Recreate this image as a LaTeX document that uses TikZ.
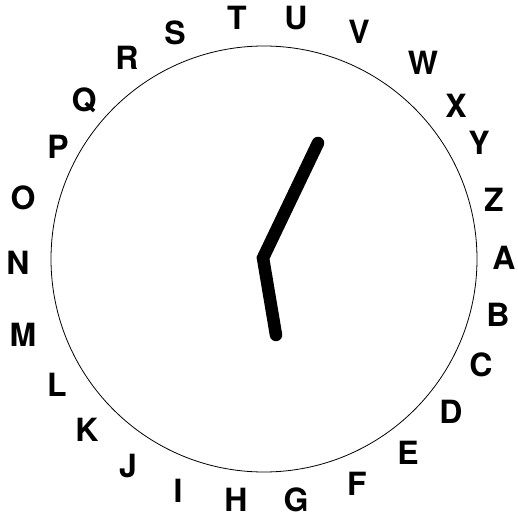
\documentclass[tikz,border=0pt]{standalone}
\usepackage{fontspec}
\setsansfont{TeX Gyre Heros}
\usetikzlibrary{positioning}

\begin{document}
\begin{tikzpicture}[x=1pt,y=-1pt,
  letter/.style={inner sep=0pt,font=\fontsize{32}{32}\selectfont\sffamily\bfseries},
  hand/.style={line width=12.5pt,line cap=round,line join=miter}]
  \useasboundingbox (0,0) rectangle (517,519);

  % Dial and its centre
  \coordinate (O) at (264,259);
  \draw[line width=0.8pt] (O) circle (213);

  % Letters round the dial (positions)
  \foreach \l/\x/\y in {A/504/258, B/498/315, C/481/365, D/451/412,
      E/408/453, F/357/484, G/296/500, H/236/500, I/178/491, J/128/466,
      K/87/430, L/57/385, M/23/335, N/18/263, O/23/198, P/58/147,
      Q/84/100, R/127/58, S/175/33, T/237/18, U/296/18, V/359/32,
      W/423/63, X/456/106, Y/479/143, Z/494/200}
    \node[letter] (l\l) at (\x,\y) {\l};

  % The two hands
  \coordinate (hub) at (263,258);
  \coordinate (long) at (318,143);
  \coordinate (short) at (276,335);
  \draw[hand] (long) -- (hub) -- (short);
\end{tikzpicture}
\end{document}
